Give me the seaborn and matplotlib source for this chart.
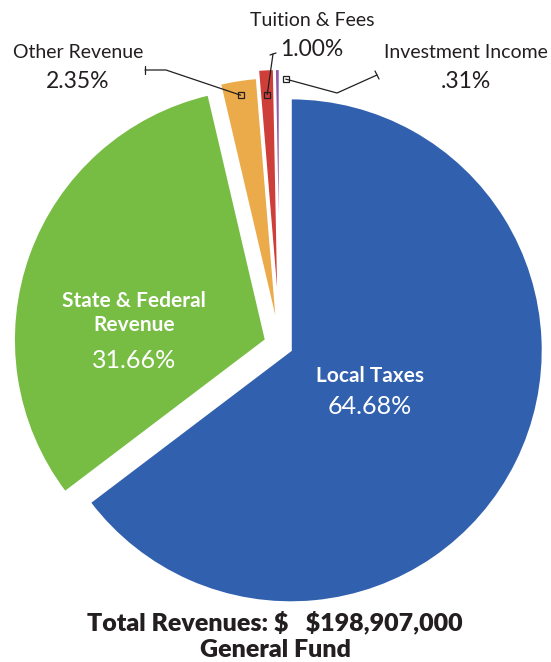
import matplotlib
matplotlib.use("Agg")
import matplotlib.pyplot as plt
import seaborn as sns
import numpy as np

# data
categories = ["Local Taxes", "State & Federal\nRevenue", "Other Revenue", "Tuition & Fees", "Investment Income"]
shares = [64.68, 31.66, 2.35, 1.00, 0.31]
pct_labels = ["64.68%", "31.66%", "2.35%", "1.00%", ".31%"]
total_text = "Total Revenues: \\$   \\$198,907,000"
fund_text = "General Fund"

colors = ["#3160ae", "#77bc43", "#ebab4b", "#cf3f3a", "#8f5ba6"]
dark = "#231f20"

sns.set_theme(style="white")
plt.rcParams["font.family"] = ["Lato", "DejaVu Sans"]

W, H = 551, 662
fig = plt.figure(figsize=(W / 100, H / 100), dpi=100)
ax = fig.add_axes([0, 0, 1, 1])

cx, cy, R = 280, H - 345, 252
explode = [12, 15, 16, 24, 24]
wedges, _ = ax.pie(
    shares,
    colors=sns.color_palette(colors),
    startangle=90,
    counterclock=False,
    explode=explode,
    radius=R,
    center=(cx, cy),
    wedgeprops=dict(edgecolor="white", linewidth=1.5),
)
ax.set_xlim(0, W)
ax.set_ylim(0, H)
ax.set_aspect("equal")
ax.axis("off")


def wedge_point(w, rfrac, afrac=0.5):
    a = np.deg2rad(w.theta1 + (w.theta2 - w.theta1) * afrac)
    x0, y0 = w.center
    return x0 + rfrac * w.r * np.cos(a), y0 + rfrac * w.r * np.sin(a)


def leader(pts, tick):
    xs, ys = zip(*pts)
    ax.plot(xs, ys, color=dark, lw=0.9, zorder=5)
    ax.plot(*zip(*tick), color=dark, lw=0.9, zorder=5)
    ax.plot(xs[0], ys[0], marker="s", ms=5, mfc="none", mec=dark, mew=0.9, zorder=6)


# other revenue
p = wedge_point(wedges[2], 0.94)
leader([p, (166, H - 70), (145, H - 70)], [(145, H - 66), (145, H - 74)])
# tuition & fees
p = wedge_point(wedges[3], 0.9)
leader([p, (273, H - 54)], [(270, H - 55), (276, H - 53)])
# investment income
p = wedge_point(wedges[4], 0.96, 0.0)
p = (p[0] + 6, p[1])
leader([p, (337, H - 93), (377, H - 75)], [(375, H - 71), (379, H - 79)])

# outside labels
for name, pct, (x, y) in zip(categories[2:], pct_labels[2:], [(78, 52), (312, 20), (466, 52)]):
    ax.text(x, H - y, name, fontsize=14, color=dark, ha="center", va="center")
    ax.text(x, H - y - 29, pct, fontsize=16.5, color=dark, ha="center", va="center")

# inside labels
ax.text(134, H - 313, categories[1], fontsize=15, fontweight="bold",
        color="white", ha="center", va="center", linespacing=1.3)
ax.text(134, H - 360, pct_labels[1], fontsize=18, color="white", ha="center", va="center")
ax.text(370, H - 376, categories[0], fontsize=15, fontweight="bold",
        color="white", ha="center", va="center")
ax.text(370, H - 407, pct_labels[0], fontsize=18, color="white", ha="center", va="center")

ax.text(275, H - 622, total_text, fontsize=18, fontweight="heavy", color=dark, ha="center", va="center")
ax.text(275, H - 650, fund_text, fontsize=18, fontweight="heavy", color=dark, ha="center", va="center")

fig.savefig("out.png", dpi=100)
